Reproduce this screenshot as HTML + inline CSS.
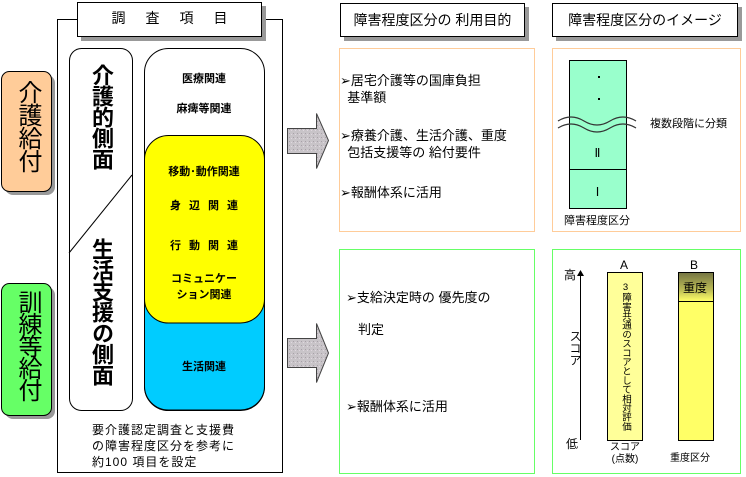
<!DOCTYPE html>
<html><head><meta charset="utf-8"><style>
body{margin:0;width:746px;height:477px;background:#fff;position:relative;overflow:hidden;font-family:"Liberation Sans","Noto Sans CJK JP",sans-serif;color:#000}
.a{position:absolute}
.t{position:absolute;white-space:nowrap}
.vt{position:absolute;writing-mode:vertical-rl;text-orientation:upright}
</style></head><body>
<svg class="a" style="left:0;top:0" width="746" height="477">
<defs>
<pattern id="dots" width="4" height="4" patternUnits="userSpaceOnUse"><rect width="4" height="4" fill="#c8c4c8"/><rect x="1" y="1" width="1" height="1" fill="#a8a0a8"/><rect x="3" y="2" width="1" height="1" fill="#e0d8e0"/></pattern>
<linearGradient id="gB" x1="0" y1="0" x2="0" y2="1"><stop offset="0" stop-color="#777744"/><stop offset="0.6" stop-color="#bbbb55"/><stop offset="1" stop-color="#ffff66"/></linearGradient>
</defs>
<rect x="57.5" y="19.5" width="225" height="453" fill="#fff" stroke="#000"/>
<rect x="81" y="6" width="185" height="35" fill="#999"/>
<rect x="77.5" y="2.5" width="184" height="34" fill="#fff" stroke="#000"/>
<rect x="344" y="7" width="185" height="34" fill="#999"/>
<rect x="340.5" y="3.5" width="184" height="33" fill="#fff" stroke="#000"/>
<rect x="556" y="7" width="186" height="34" fill="#999"/>
<rect x="552.5" y="3.5" width="185" height="33" fill="#fff" stroke="#000"/>
<rect x="5" y="75" width="50" height="120" rx="8" fill="#999"/>
<rect x="1.5" y="71.5" width="50" height="120" rx="8" fill="#ffcc99" stroke="#000"/>
<rect x="5" y="287" width="50" height="132" rx="8" fill="#999"/>
<rect x="1.5" y="283.5" width="50" height="132" rx="8" fill="#66ff66" stroke="#000"/>
<rect x="69.5" y="48.5" width="63" height="362" rx="12" fill="#fff" stroke="#000"/>
<line x1="132" y1="175" x2="69" y2="253" stroke="#000"/>
<rect x="144.5" y="48.5" width="120" height="362" rx="24" fill="#fff" stroke="#000"/>
<path d="M144.5 300 H264.5 V386 a24 24 0 0 1 -24 24 H168.5 a24 24 0 0 1 -24 -24 Z" fill="#00ccff" stroke="#000"/>
<path d="M168.5 135.5 H240.5 a24 24 0 0 1 24 24 V299 a24 24 0 0 1 -24 24 H168.5 a24 24 0 0 1 -24 -24 V159.5 a24 24 0 0 1 24 -24 Z" fill="#ffff00" stroke="#000"/>
<path d="M287.5 128.5 H316.5 V113.5 L328.5 140.5 L316.5 168.5 V153.5 H287.5 Z" fill="url(#dots)" stroke="#444"/>
<path d="M287.5 338.5 H316.5 V323.5 L328.5 353 L316.5 382.5 V367.5 H287.5 Z" fill="url(#dots)" stroke="#444"/>
<rect x="339.5" y="48.5" width="195" height="183" fill="#fff" stroke="#ffcc99"/>
<rect x="339.5" y="249.5" width="195" height="224" fill="#fff" stroke="#66ff66"/>
<rect x="552.5" y="48.5" width="188" height="183" fill="#fff" stroke="#ffcc99"/>
<rect x="552.5" y="249.5" width="188" height="224" fill="#fff" stroke="#66ff66"/>
<rect x="569.5" y="60.5" width="57" height="148" fill="#99ffcc" stroke="#000"/>
<line x1="569.5" y1="169.5" x2="626.5" y2="169.5" stroke="#000"/>
<rect x="598" y="76" width="2" height="2" fill="#000"/>
<rect x="598" y="98" width="2" height="2" fill="#000"/>
<path d="M558 121 Q571 113 584 121 T610 121 T636 121" fill="none" stroke="#333" stroke-width="1.2"/>
<path d="M558 128 Q571 120 584 128 T610 128 T636 128" fill="none" stroke="#333" stroke-width="1.2"/>
<line x1="580.5" y1="276" x2="580.5" y2="440" stroke="#000"/>
<path d="M577 276 L580.5 270 L584 276 Z" fill="#000"/>
<rect x="607.5" y="272.5" width="35" height="168" fill="#ffff99" stroke="#000"/>
<rect x="678.5" y="272.5" width="35" height="168" fill="#ffff66" stroke="#000"/>
<rect x="679" y="273" width="34" height="28" fill="url(#gB)"/>
<line x1="678.5" y1="301.5" x2="713.5" y2="301.5" stroke="#000"/>
</svg>

<div class="t" style="left:77px;top:8px;width:185px;text-align:center;font-size:14px;letter-spacing:20px;text-indent:20px">調査項目</div>
<div class="t" style="left:340px;top:10px;width:185px;text-align:center;font-size:14px">障害程度区分の 利用目的</div>
<div class="t" style="left:552px;top:10px;width:186px;text-align:center;font-size:14px">障害程度区分のイメージ</div>

<div class="vt" style="left:12px;top:80px;font-size:24px;line-height:30px;letter-spacing:-1px">介護給付</div>
<div class="vt" style="left:12px;top:290px;font-size:24px;line-height:30px;letter-spacing:-2px">訓練等給付</div>
<div class="vt" style="left:87px;top:64px;font-size:22px;line-height:28px;font-weight:bold;letter-spacing:-1px">介護的側面</div>
<div class="vt" style="left:87px;top:238px;font-size:22px;line-height:28px;font-weight:bold;letter-spacing:-1px">生活支援の側面</div>

<div class="t" style="left:144px;top:70px;width:120px;text-align:center;font-size:11px;font-weight:bold">医療関連</div>
<div class="t" style="left:144px;top:100px;width:120px;text-align:center;font-size:11px;font-weight:bold">麻痺等関連</div>
<div class="t" style="left:144px;top:163px;width:120px;text-align:center;font-size:11px;font-weight:bold">移動･動作関連</div>
<div class="t" style="left:144px;top:197px;width:120px;text-align:center;font-size:11px;font-weight:bold;letter-spacing:8px;text-indent:8px">身辺関連</div>
<div class="t" style="left:144px;top:237px;width:120px;text-align:center;font-size:11px;font-weight:bold;letter-spacing:8px;text-indent:8px">行動関連</div>
<div class="t" style="left:144px;top:271px;width:120px;text-align:center;font-size:11px;font-weight:bold;line-height:16px">コミュニケー<br>ション関連</div>
<div class="t" style="left:144px;top:358px;width:120px;text-align:center;font-size:11px;font-weight:bold">生活関連</div>
<div class="t" style="left:92px;top:422px;font-size:12px;line-height:16px;letter-spacing:1px">要介護認定調査と支援費<br>の障害程度区分を参考に<br>約100 項目を設定</div>

<div class="t" style="left:340px;top:72px;font-size:13px;line-height:17px">➢居宅介護等の国庫負担<br>&nbsp;&nbsp;基準額</div>
<div class="t" style="left:340px;top:127px;font-size:13px;line-height:17px">➢療養介護、生活介護、重度<br>&nbsp;&nbsp;包括支援等の 給付要件</div>
<div class="t" style="left:340px;top:182px;font-size:13px">➢報酬体系に活用</div>
<div class="t" style="left:346px;top:287px;font-size:13px">➢支給決定時の 優先度の</div>
<div class="t" style="left:358px;top:319px;font-size:13px">判定</div>
<div class="t" style="left:346px;top:396px;font-size:13px">➢報酬体系に活用</div>

<div class="t" style="left:569px;top:146px;width:57px;text-align:center;font-size:12px;font-family:'Liberation Serif',serif">Ⅱ</div>
<div class="t" style="left:569px;top:185px;width:57px;text-align:center;font-size:12px;font-family:'Liberation Serif',serif">Ⅰ</div>
<div class="t" style="left:650px;top:115px;font-size:11px">複数段階に分類</div>
<div class="t" style="left:564px;top:212px;font-size:11px">障害程度区分</div>

<div class="t" style="left:620px;top:258px;font-size:12px">A</div>
<div class="t" style="left:690px;top:258px;font-size:12px">B</div>
<div class="t" style="left:564px;top:266px;font-size:12px">高</div>
<div class="t" style="left:566px;top:435px;font-size:12px">低</div>
<div class="vt" style="left:567px;top:330px;font-size:12px">スコア</div>
<div class="vt" style="left:619px;top:282px;font-size:9.5px;line-height:12px;letter-spacing:-0.3px">3障害共通のスコアとして相対評価</div>
<div class="t" style="left:683px;top:279px;font-size:12px">重度</div>
<div class="t" style="left:607px;top:442px;width:36px;text-align:center;font-size:10px;line-height:12px">スコア<br>(点数)</div>
<div class="t" style="left:670px;top:449px;font-size:10px">重度区分</div>
</body></html>
